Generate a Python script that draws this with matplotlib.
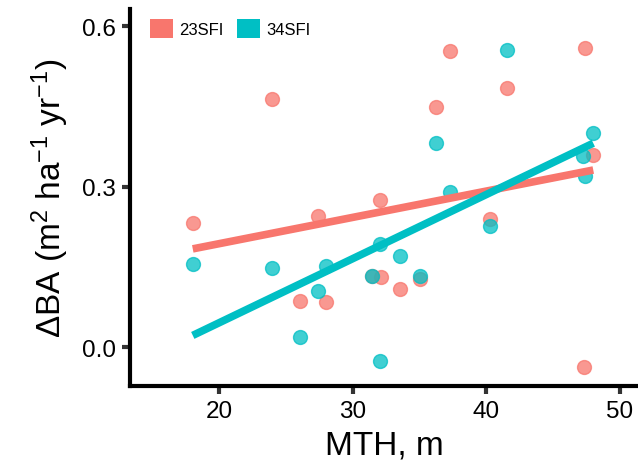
import numpy as np
import matplotlib
matplotlib.use("Agg")
import matplotlib.pyplot as plt
from matplotlib.patches import Patch

plt.rcParams['font.family'] = ['Liberation Sans', 'DejaVu Sans']
plt.rcParams['mathtext.fontset'] = 'custom'
plt.rcParams['mathtext.rm'] = 'Liberation Sans'
plt.rcParams['mathtext.it'] = 'Liberation Sans:italic'

groups = ["23SFI", "34SFI"]
colors = {"23SFI": "#F8766D", "34SFI": "#00BFC4"}

mth_23 = [18.0, 23.9, 27.4, 37.3, 47.4, 41.5, 36.2, 48.0, 32.0, 40.3, 26.0, 32.1, 31.4, 35.0, 33.5, 28.0, 47.3]
dba_23 = [0.232, 0.463, 0.246, 0.553, 0.559, 0.485, 0.449, 0.359, 0.275, 0.240, 0.086, 0.131, 0.134, 0.128, 0.109, 0.085, -0.036]

mth_34 = [41.5, 36.2, 48.0, 47.2, 47.4, 37.3, 40.3, 32.0, 18.0, 23.9, 27.4, 26.0, 33.5, 31.4, 35.0, 28.0, 32.0]
dba_34 = [0.556, 0.382, 0.401, 0.358, 0.320, 0.290, 0.226, 0.193, 0.156, 0.148, 0.106, 0.019, 0.170, 0.134, 0.134, 0.152, -0.026]

xticks = [20, 30, 40, 50]
yticks = [0.0, 0.3, 0.6]
ytick_labels = ["0.0", "0.3", "0.6"]

fig = plt.figure(figsize=(6.38, 4.77), dpi=100)
ax = fig.add_axes([0.2038, 0.1893, 0.7962, 0.7897])

data = {"23SFI": (mth_23, dba_23), "34SFI": (mth_34, dba_34)}
for g in groups:
    x, y = np.array(data[g][0]), np.array(data[g][1])
    ax.scatter(x, y, s=100, color=colors[g], alpha=0.75, edgecolors=colors[g],
               linewidths=1.0, zorder=2)
for g in groups:
    x, y = np.array(data[g][0]), np.array(data[g][1])
    b, a = np.polyfit(x, y, 1)
    xs = np.array([x.min(), x.max()])
    ax.plot(xs, a + b * xs, color=colors[g], lw=5.5, solid_capstyle='butt', zorder=3)

ax.set_xlim(13.3, 51.35)
ax.set_ylim(-0.0717, 0.632)
ax.set_xticks(xticks)
ax.set_yticks(yticks)
ax.set_yticklabels(ytick_labels)
for s in ['top', 'right']:
    ax.spines[s].set_visible(False)
for s in ['left', 'bottom']:
    ax.spines[s].set_linewidth(3)
    ax.spines[s].set_color('black')
ax.tick_params(axis='both', length=6, width=3, color='#333333', labelsize=17.5,
               labelcolor='black', pad=4)

ax.set_xlabel("MTH, m", fontsize=24, labelpad=6)
ax.set_ylabel(r"$\Delta$BA (m$^{2}$ ha$^{-1}$ yr$^{-1}$)", fontsize=24, labelpad=8)

handles = [Patch(facecolor=colors[g], edgecolor='none') for g in groups]
ax.legend(handles, groups, loc='upper left', ncol=2, frameon=False, fontsize=12,
          handlelength=1.35, handleheight=1.35, handletextpad=0.4, columnspacing=0.8,
          borderaxespad=0.2, bbox_to_anchor=(0.02, 1.0))

fig.savefig("out.png", dpi=100)
